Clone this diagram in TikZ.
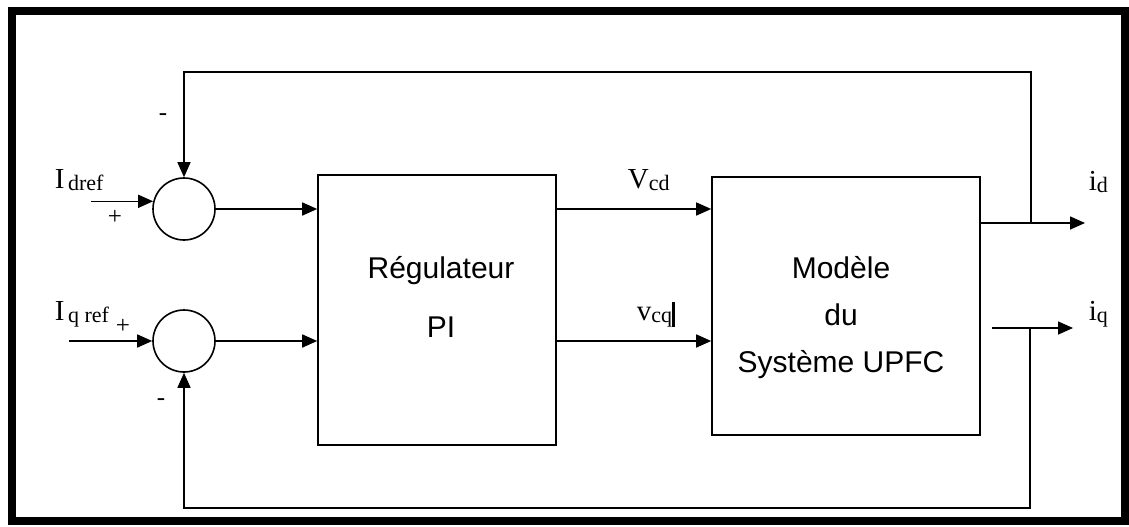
\documentclass[tikz,border=0pt]{standalone}
\usepackage{fontspec}
\setmainfont{Liberation Serif}
\newfontfamily\arialfont{Liberation Sans}
\usetikzlibrary{arrows.meta,calc}

\newcommand{\sgn}[2]{{\fontsize{29}{29}\selectfont #1}\raisebox{-2pt}{\fontsize{22}{22}\selectfont #2}}

\begin{document}
\begin{tikzpicture}[x=1pt, y=-1pt, line width=1.6pt,
            arr/.style = {-{Triangle[length=15pt,width=13pt]}},
            sumnode/.style = {draw, circle, minimum size=62pt, inner sep=0pt},
            blk/.style = {draw, inner sep=0pt},
            boxtxt/.style = {align=center, font=\arialfont\fontsize{30}{47}\selectfont},
            lbl/.style = {anchor=base west, inner sep=0pt},
            sgnlbl/.style = {inner sep=0pt, font=\fontsize{25}{25}\selectfont}]
            \useasboundingbox (0,0) rectangle (1129,527);
            \draw[line width=8pt] (12,11) rectangle (1125,521);

            \node[sumnode] (sumd) at (184,209) {};
            \node[sumnode] (sumq) at (184,341) {};
            \node[blk, minimum width=238pt, minimum height=270pt] (pi) at (437,310) {};
            \node[blk, minimum width=268pt, minimum height=258pt] (upfc) at (846,306) {};

            \node[boxtxt, font=\arialfont\fontsize{30}{59}\selectfont] (pitxt) at (441,297) {Régulateur\\PI};
            \node[boxtxt] (upfctxt) at (841,318) {Modèle\\du\\Système UPFC};

            \node[lbl] (idref) at (54,188) {\sgn{I}{\,dref}};
            \node[lbl] (iqref) at (54,320) {\sgn{I}{\,q ref}};
            \node[sgnlbl] (pd) at (115,217) {+};
            \node[sgnlbl] (pq) at (123,326) {+};
            \node[sgnlbl] (md) at (163,117) {-};
            \node[sgnlbl] (mq) at (161,402) {-};
            \node[lbl] (vcd) at (627,188) {\sgn{V}{cd}};
            \node[lbl] (vcq) at (636,320) {\sgn{v}{cq}\rule[-7pt]{3pt}{25pt}};
            \node[lbl] (id) at (1088,190) {\sgn{i}{d}};
            \node[lbl] (iq) at (1088,320) {\sgn{i}{q}};

            \coordinate (idin) at ($(sumd.166)+(-62,0)$);
            \coordinate (iqin) at ($(sumq.west)+(-83,0)$);
            \path[arr] (idin) edge (sumd.166);
            \path[arr] (iqin) edge (sumq.west);

            \path[arr] (sumd) edge (sumd -| pi.west);
            \path[arr] (sumq) edge (sumq -| pi.west);
            \path[arr] (pi.east |- sumd) edge (upfc.west |- sumd);
            \path[arr] (pi.east |- sumq) edge (upfc.west |- sumq);

            \coordinate (idout) at (1085,223);
            \coordinate (tapd) at (1031,223);
            \coordinate (topc) at (184,72);
            \path[arr] (upfc.east |- idout) edge (idout);
            \draw[arr] (tapd) |- (topc) -- (sumd.north);

            \coordinate (iqst) at (992,328);
            \coordinate (iqout) at (1073,328);
            \coordinate (tapq) at (1030,328);
            \coordinate (botc) at (184,508);
            \path[arr] (iqst) edge (iqout);
            \draw[arr] (tapq) |- (botc) -- (sumq.south);
        \end{tikzpicture}
\end{document}
